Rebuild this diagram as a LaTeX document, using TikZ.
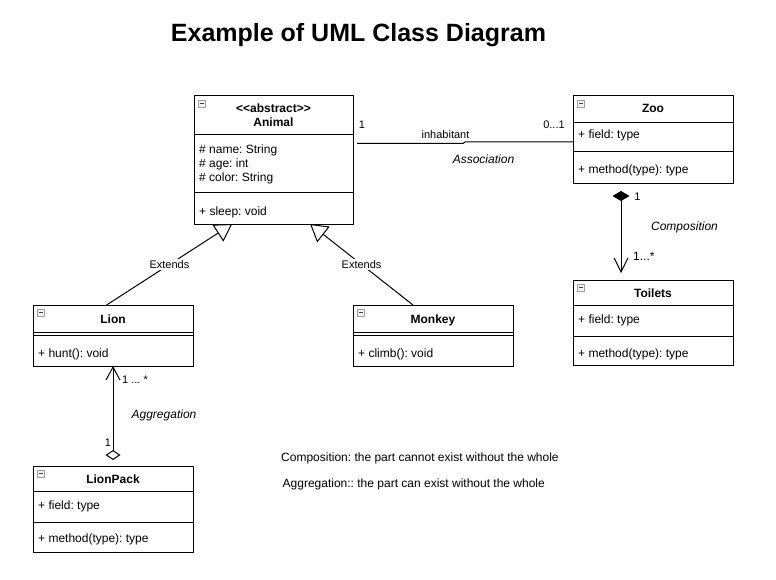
\documentclass[tikz,border=0pt]{standalone}
\usepackage{fontspec}
\setmainfont{Liberation Sans}
\usetikzlibrary{arrows.meta,calc}
\frenchspacing
\begin{document}
\begin{tikzpicture}[x=1pt,y=-1pt,
  cls/.style={draw, line width=1pt, anchor=north west, inner sep=0pt, outer sep=0pt},
  sepline/.style={line width=1pt},
  nm/.style={font=\fontsize{12}{14}\selectfont\bfseries, inner sep=0pt, anchor=base},
  mem/.style={font=\fontsize{12}{14}\selectfont, inner sep=0pt, anchor=base west},
  lbl/.style={font=\fontsize{11}{13}\selectfont, inner sep=0pt},
  lblb/.style={font=\fontsize{12}{14}\selectfont, inner sep=0pt},
  it/.style={font=\fontsize{12}{14}\selectfont\itshape, inner sep=0pt, anchor=base},
  conn/.style={line width=1pt},
  ext/.style={conn, -{Triangle[open, length=17pt, width=20pt]}},
  extlbl/.style={font=\fontsize{11}{13}\selectfont, fill=white, inner sep=1.5pt, pos=0.5},
  minus/.pic={
    \draw[line width=0.7pt, draw=gray!75, fill=gray!10] (0,0) rectangle (7.5,7.5);
    \draw[line width=1pt, draw=black!75] (1.8,3.75) -- (5.7,3.75);
  }
]
\useasboundingbox (0,0) rectangle (776,580);
\fill[white] (0,0) rectangle (776,580);

% Title
\node[font=\fontsize{25}{30}\selectfont\bfseries, inner sep=0pt, anchor=base] (title) at (358.5,42) {Example of UML Class Diagram};

% Animal
\node[cls, minimum width=159pt, minimum height=128pt] (animal) at (194,96) {};
\draw[sepline] (194,135) -- (353,135);
\draw[sepline] (194,193) -- (353,193);
\pic at (198,100) {minus};
\node[nm] (animalst) at (273.5,112.5) {<{}<abstract>{}>};
\node[nm] (animalnm) at (273.5,127) {Animal};
\node[mem] (a1) at (199,153.5) {\# name: String};
\node[mem] (a2) at (199,167.5) {\# age: int};
\node[mem] (a3) at (199,181.5) {\# color: String};
\node[mem] (a4) at (199,215) {+ sleep: void};

% Zoo
\node[cls, minimum width=160pt, minimum height=88pt] (zoo) at (573,96) {};
\draw[sepline] (573,123) -- (733,123);
\draw[sepline] (573,152) -- (733,152);
\pic at (577,100) {minus};
\node[nm] (zoonm) at (653,113) {Zoo};
\node[mem] (z1) at (578,139) {+ field: type};
\node[mem] (z2) at (578,174) {+ method(type): type};

% Toilets
\node[cls, minimum width=160pt, minimum height=85pt] (toilets) at (573,280) {};
\draw[sepline] (573,305) -- (733,305);
\draw[sepline] (573,336) -- (733,336);
\pic at (577,284) {minus};
\node[nm] (toinm) at (653,297) {Toilets};
\node[mem] (t1) at (578,323.5) {+ field: type};
\node[mem] (t2) at (578,357) {+ method(type): type};

% Lion
\node[cls, minimum width=160pt, minimum height=61pt] (lion) at (33,305) {};
\draw[sepline] (33,332) -- (193,332);
\draw[sepline] (33,335.5) -- (193,335.5);
\pic at (37,309) {minus};
\node[nm] (lionnm) at (113,323) {Lion};
\node[mem] (l1) at (38,357) {+ hunt(): void};

% Monkey
\node[cls, minimum width=160pt, minimum height=61pt] (monkey) at (353,305) {};
\draw[sepline] (353,332) -- (513,332);
\draw[sepline] (353,335.5) -- (513,335.5);
\pic at (357,309) {minus};
\node[nm] (monkeynm) at (433,323) {Monkey};
\node[mem] (m1) at (358,357) {+ climb(): void};

% LionPack
\node[cls, minimum width=160pt, minimum height=86pt] (lionpack) at (33,466) {};
\draw[sepline] (33,491) -- (193,491);
\draw[sepline] (33,522) -- (193,522);
\pic at (37,470) {minus};
\node[nm] (lpnm) at (113,483) {LionPack};
\node[mem] (lp1) at (38,509.5) {+ field: type};
\node[mem] (lp2) at (38,542.5) {+ method(type): type};

% Association
\draw[conn] ($(animal.north east)+(4,47.5)$) -- ++(106,0) -- ++(2,-1.5) -- ($(zoo.north west)+(0,46)$);
\node[lbl] (as1) at (362,125) {1};
\node[lbl, anchor=base] (asinh) at (445.5,139) {inhabitant};
\node[lbl] (as2) at (554,125) {0...1};
\node[it] (asname) at (483.5,163.5) {Association};

% Extends
\draw[ext] ($(lion.north west)!0.46!(lion.north east)$) -- node[extlbl] (ext1) {Extends} ($(animal.south west)!0.24!(animal.south east)$);
\draw[ext] ($(monkey.north west)!0.375!(monkey.north east)$) -- node[extlbl] (ext2) {Extends} ($(animal.south west)!0.73!(animal.south east)$);

% Composition
\draw[conn, {Diamond[length=10pt, width=17pt]}-{Straight Barb[length=14pt, width=14pt]}, shorten <=7pt, shorten >=7pt]
  ($(zoo.south west)!0.3!(zoo.south east)$) -- ($(toilets.north west)!0.3!(toilets.north east)$);
\node[lbl] (c1) at (637.5,196.5) {1};
\node[it] (cname) at (684.5,230) {Composition};
\node[lblb, anchor=base west] (c2) at (633,260) {1...*};

% Aggregation
\draw[conn, {Diamond[open, length=10pt, width=15pt]}-{Straight Barb[length=13pt, width=14pt]}, shorten <=6pt]
  (lionpack.north) -- (lion.south);
\node[lbl, anchor=base west] (g1) at (122,383) {1 ... *};
\node[it] (gname) at (164,418) {Aggregation};
\node[lbl] (g2) at (108,443) {1};

% Notes
\node[mem] (note1) at (281,461) {Composition: the part cannot exist without the whole};
\node[mem] (note2) at (282.5,487) {Aggregation:: the part can exist without the whole};
\end{tikzpicture}
\end{document}
